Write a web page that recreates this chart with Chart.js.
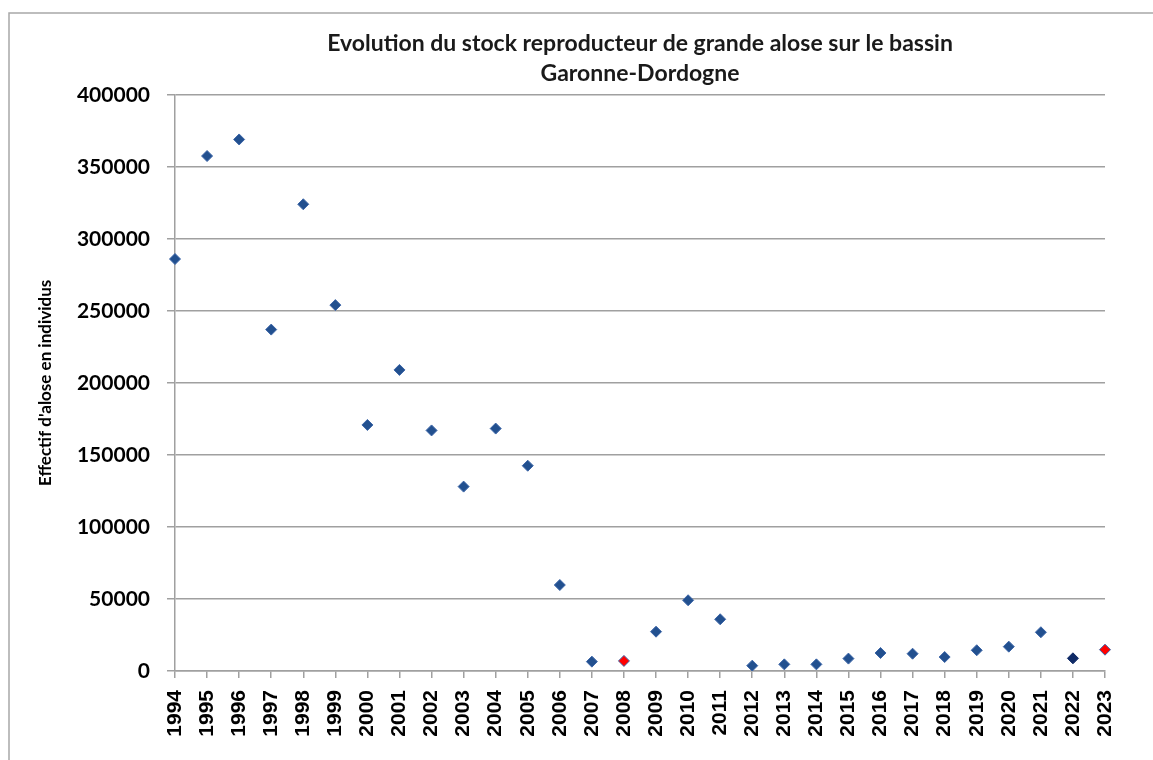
<!DOCTYPE html>
<html>
<head>
<meta charset="utf-8">
<script src="https://cdn.jsdelivr.net/npm/chart.js@4/dist/chart.umd.min.js"></script>
<style>
  html, body { margin: 0; padding: 0; background: #fff; }
  canvas { display: block; }
</style>
</head>
<body>
<canvas id="c" width="1153" height="760"></canvas>
<script>
// ---- data ----
const years = [1994,1995,1996,1997,1998,1999,2000,2001,2002,2003,2004,2005,2006,2007,2008,2009,2010,2011,2012,2013,2014,2015,2016,2017,2018,2019,2020,2021,2022,2023];
const stock = [286000,357500,369000,237000,324000,254000,170800,209000,167000,128000,168300,142500,59700,6500,7000,27300,49100,35900,3700,4600,4600,8600,12500,12000,9700,14400,16900,26900,8800,14800];
const highlightedYears = [2008, 2023];
const darkYears = [2022];
const yTicks = [0,50000,100000,150000,200000,250000,300000,350000,400000];
const titleLines = ["Evolution du stock reproducteur de grande alose sur le bassin", "Garonne-Dordogne"];
const yTitle = "Effectif d'alose en individus";

const BLUE = '#22508f', NAVY = '#0f2a66', RED = '#ff0000', GRID = '#a0a0a0';
const fillColors = years.map(y => highlightedYears.includes(y) ? RED : (darkYears.includes(y) ? NAVY : BLUE));
const edgeColors = years.map(y => darkYears.includes(y) ? NAVY : '#3d66a8');

const framePlugin = {
  id: 'frame',
  beforeDraw(chart) {
    const ctx = chart.ctx;
    ctx.save();
    ctx.fillStyle = '#fff';
    ctx.fillRect(0, 0, chart.width, chart.height);
    ctx.strokeStyle = '#a8a8a8';
    ctx.lineWidth = 1.5;
    ctx.strokeRect(9, 13, 1170, 780);
    ctx.restore();
  }
};

new Chart(document.getElementById('c'), {
  type: 'line',
  data: {
    labels: years.map(String),
    datasets: [{
      data: stock,
      showLine: false,
      pointStyle: 'rectRot',
      pointRadius: 5.5,
      pointHoverRadius: 5.5,
      pointBorderWidth: 1,
      pointBackgroundColor: fillColors,
      pointBorderColor: edgeColors
    }]
  },
  options: {
    responsive: false,
    animation: false,
    devicePixelRatio: 1,
    layout: { padding: { left: 0, right: 48, top: 0, bottom: 0 } },
    plugins: {
      legend: { display: false },
      tooltip: { enabled: false },
      title: {
        display: true,
        text: titleLines,
        fullSize: false,
        color: '#1a1a1a',
        font: { family: 'Lato', weight: 'bold', size: 23, lineHeight: 1.3 },
        padding: { top: 29, bottom: 6 }
      }
    },
    scales: {
      x: {
        type: 'category',
        offset: false,
        grid: { display: true, drawOnChartArea: false, drawTicks: true, tickLength: 7, color: GRID, lineWidth: 1.5 },
        border: { display: true, color: GRID, width: 1.5 },
        ticks: {
          autoSkip: false,
          minRotation: 90, maxRotation: 90,
          padding: 12,
          color: '#000',
          font: { family: 'Liberation Sans', weight: 'bold', size: 21 }
        },
        afterFit(scale) { scale.height = 89; }
      },
      y: {
        min: 0, max: 400000,
        afterBuildTicks(scale) { scale.ticks = yTicks.map(v => ({ value: v })); },
        grid: { color: GRID, lineWidth: 1.5, tickLength: 8, drawTicks: true },
        border: { display: true, color: GRID, width: 1.5 },
        ticks: {
          padding: 17,
          color: '#000',
          font: { family: 'Lato', weight: 'bold', size: 21 },
          callback: v => String(v)
        },
        title: {
          display: true,
          text: yTitle,
          color: '#000',
          font: { family: 'Lato', weight: 'bold', size: 17, lineHeight: 1.2 },
          padding: { top: 35, bottom: 0 }
        },
        afterFit(scale) { scale.width = 175; }
      }
    }
  },
  plugins: [framePlugin]
});
</script>
</body>
</html>
